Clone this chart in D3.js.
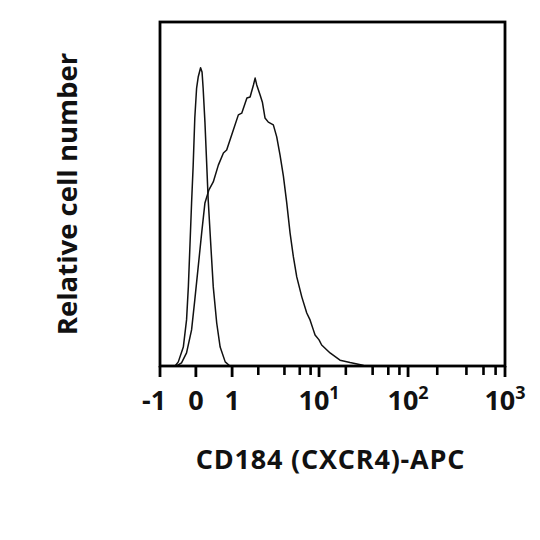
<!DOCTYPE html>
<html>
<head>
<meta charset="utf-8">
<script src="https://cdn.jsdelivr.net/npm/d3@7"></script>
<style>
  body { margin: 0; background: #fff; }
  text { font-family: "Open Sans", "Noto Sans", sans-serif; font-weight: 700; fill: #111; }
</style>
</head>
<body>
<div id="chart"></div>
<script>
// ---------------------------------------------------------------------------//
// Data
// ---------------------------------------------------------------------------//
// Isotype control (narrow peak near 0)
const isoValues = [-0.58, -0.49, -0.35, -0.26, -0.21, -0.17, -0.12, -0.075, -0.03, 0.02,
  0.064, 0.13, 0.17, 0.20, 0.25, 0.30, 0.34, 0.42, 0.48, 0.575, 0.67, 0.81, 0.94];
const isoCounts = [0, 1.2, 5.5, 13.4, 23.0, 33.7, 47.4, 58.4, 72.1, 80.8,
  84.0, 86.7, 85.5, 80.8, 70.9, 58.4, 48.3, 33.7, 23.0, 12.5, 5.5, 1.2, 0];

// CD184 (CXCR4)-APC stained cells
const cxcr4Values = [-0.58, -0.54, -0.40, -0.26, -0.12, -0.03, 0.064, 0.16, 0.25, 0.36,
  0.48, 0.62, 0.76, 0.85, 0.99, 1.18, 1.29, 1.48, 1.61, 1.76,
  1.84, 1.92, 2.10, 2.23, 2.39, 2.61, 2.98, 3.26, 3.56, 3.89,
  4.25, 4.64, 5.07, 5.54, 6.33, 7.22, 7.88, 8.60, 9.0, 10,
  10.7, 13.3, 17.2, 22.3, 30.2, 32.9];
const cxcr4Counts = [0, 0, 0.9, 3.8, 10.5, 19.2, 28.8, 38.7, 47.4, 51.2,
  53.5, 58.4, 61.9, 62.8, 67.2, 73.0, 73.5, 77.9, 78.2, 81.7,
  83.7, 81.7, 78.8, 76.7, 72.1, 70.9, 70.1, 66.6, 61.3, 55.2,
  47.4, 38.7, 31.7, 25.9, 20.1, 15.4, 13.4, 10.5, 9.0, 7.6,
  6.1, 3.8, 1.7, 1.0, 0.3, 0];

// Axis ticks
const majorTicks = [-1, 0, 1, 10, 100, 1000];
const majorBase = ["-1", "0", "1", "10", "10", "10"];
const majorExp = ["", "", "", "1", "2", "3"];
const minorTicks = [2, 4, 6, 8, 20, 40, 60, 80, 200, 400, 600, 800];
// relative position of each major tick along the axis (biexponential-like display)
const majorFrac = [0, 0.104, 0.209, 0.461, 0.719, 1];

const xTitle = "CD184 (CXCR4)-APC";
const yTitle = "Relative cell number";

// ---------------------------------------------------------------------------//
// Layout
// ---------------------------------------------------------------------------//
const width = 540;
const height = 540;
const margin = { top: 22, right: 35, bottom: 174, left: 160 };
const innerWidth = width - margin.left - margin.right;
const innerHeight = height - margin.top - margin.bottom;

// linear below 1, log10 above
function toUnit(v) {
  return v <= 1 ? v : 1 + Math.log10(v);
}

const xUnit = d3.scaleLinear()
  .domain(majorTicks.map(toUnit))
  .range(majorFrac.map((f) => f * innerWidth));
const x = (v) => xUnit(toUnit(v));

const y = d3.scaleLinear().domain([0, 100]).range([innerHeight, 0]);

const svg = d3.select("#chart")
  .append("svg")
  .attr("width", width)
  .attr("height", height);

const g = svg.append("g")
  .attr("transform", `translate(${margin.left},${margin.top})`);

// ---------------------------------------------------------------------------//
// Histograms
// ---------------------------------------------------------------------------//
const line = d3.line()
  .x((d) => x(d[0]))
  .y((d) => y(d[1]));

const series = [
  d3.zip(isoValues, isoCounts),
  d3.zip(cxcr4Values, cxcr4Counts),
];

g.selectAll("path.hist")
  .data(series)
  .join("path")
  .attr("class", "hist")
  .attr("d", line)
  .attr("fill", "none")
  .attr("stroke", "#111")
  .attr("stroke-width", 1.5)
  .attr("stroke-linejoin", "round");

// ---------------------------------------------------------------------------//
// Frame and axis
// ---------------------------------------------------------------------------//
g.append("rect")
  .attr("x", 0)
  .attr("y", 0)
  .attr("width", innerWidth)
  .attr("height", innerHeight)
  .attr("fill", "none")
  .attr("stroke", "#000")
  .attr("stroke-width", 2.8);

const axisG = g.append("g").attr("transform", `translate(0,${innerHeight})`);

axisG.selectAll("line.major")
  .data(majorTicks)
  .join("line")
  .attr("class", "major")
  .attr("x1", (d) => x(d))
  .attr("x2", (d) => x(d))
  .attr("y1", 0)
  .attr("y2", 11)
  .attr("stroke", "#000")
  .attr("stroke-width", 2.8);

axisG.selectAll("line.minor")
  .data(minorTicks)
  .join("line")
  .attr("class", "minor")
  .attr("x1", (d) => x(d))
  .attr("x2", (d) => x(d))
  .attr("y1", 0)
  .attr("y2", 9)
  .attr("stroke", "#000")
  .attr("stroke-width", 2.6);

const labels = axisG.selectAll("text.tick")
  .data(majorTicks)
  .join("text")
  .attr("class", "tick")
  .attr("x", (d, i) => x(d) + (majorBase[i].startsWith("-") ? -6 : 0))
  .attr("y", 44)
  .attr("text-anchor", "middle")
  .style("font-size", "27px");

labels.append("tspan").text((d, i) => majorBase[i]);
labels.filter((d, i) => majorExp[i] !== "")
  .append("tspan")
  .attr("dy", -11)
  .style("font-size", "18px")
  .text((d) => majorExp[majorTicks.indexOf(d)]);

// ---------------------------------------------------------------------------//
// Titles
// ---------------------------------------------------------------------------//
svg.append("text")
  .attr("x", margin.left + innerWidth / 2 - 2)
  .attr("y", 469)
  .attr("text-anchor", "middle")
  .style("font-size", "27px")
  .style("letter-spacing", "0.8px")
  .text(xTitle);

svg.append("text")
  .attr("transform", `translate(77,${margin.top + innerHeight / 2}) rotate(-90)`)
  .attr("text-anchor", "middle")
  .style("font-size", "27.5px")
  .text(yTitle);
</script>
</body>
</html>
